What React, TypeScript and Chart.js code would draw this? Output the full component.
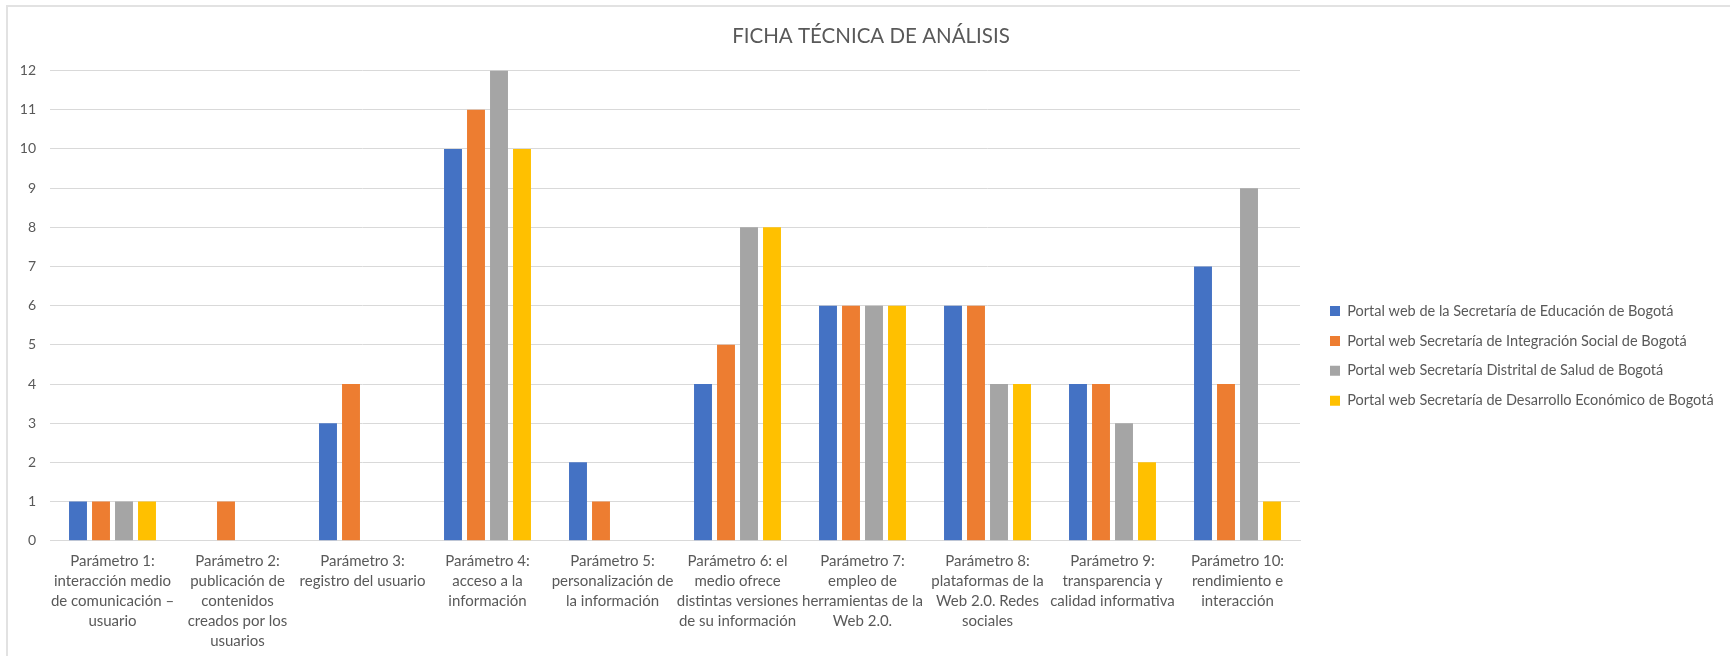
import { useEffect, useRef } from 'react';
import { Chart, registerables } from 'chart.js';

Chart.register(...registerables);

// ---------- data ----------
const categories: string[][] = [
  ['Parámetro 1:', 'interacción medio', 'de comunicación –', 'usuario'],
  ['Parámetro 2:', 'publicación de', 'contenidos', 'creados por los', 'usuarios'],
  ['Parámetro 3:', 'registro del usuario'],
  ['Parámetro 4:', 'acceso a la', 'información'],
  ['Parámetro 5:', 'personalización de', 'la información'],
  ['Parámetro 6: el', 'medio ofrece', 'distintas versiones', 'de su información'],
  ['Parámetro 7:', 'empleo de', 'herramientas de la', 'Web 2.0.'],
  ['Parámetro 8:', 'plataformas de la', 'Web 2.0. Redes', 'sociales'],
  ['Parámetro 9:', 'transparencia y', 'calidad informativa'],
  ['Parámetro 10:', 'rendimiento e', 'interacción'],
];

const educacion = [1, 0, 3, 10, 2, 4, 6, 6, 4, 7];
const integracionSocial = [1, 1, 4, 11, 1, 5, 6, 6, 4, 4];
const salud = [1, 0, 0, 12, 0, 8, 6, 4, 3, 9];
const desarrolloEconomico = [1, 0, 0, 10, 0, 8, 6, 4, 2, 1];

const seriesNames = [
  'Portal web de la Secretaría de Educación de Bogotá',
  'Portal web Secretaría de Integración Social de Bogotá',
  'Portal web Secretaría Distrital de Salud de Bogotá',
  'Portal web Secretaría de Desarrollo Económico de Bogotá',
];
const seriesColors = ['#4472C4', '#ED7D31', '#A5A5A5', '#FFC000'];

const titleText = 'FICHA TÉCNICA DE ANÁLISIS';
const yMin = 0;
const yMax = 12;
const yStep = 1;

// ---------- layout / style ----------
const W = 1730;
const H = 656;
const PLOT_LEFT = 50;
const PLOT_RIGHT = 1300;
const PLOT_TOP = 70.6;
const PLOT_BOTTOM = 540.7;
const FONT = 'Lato';
const TEXT = '#595959';
const GRID = '#d9d9d9';
const TITLE_SIZE = 20.5;
const TITLE_CENTER_Y = 36;
const LEGEND_PAD = 15.4;
const LEGEND_FONT = 14.5;
const LEGEND_BOX_X = 1330;
const LEGEND_ROW1_CENTER = 311;
const TITLE_SHIFT = 12;

const titleLine = TITLE_SIZE * 1.2;
const titlePadTop = TITLE_CENTER_Y - titleLine / 2;
const titlePadBottom = PLOT_TOP - titlePadTop - titleLine;

const placementPlugin = {
  id: 'placement',
  beforeLayout(chart: any) {
    const lg = chart.legend;
    if (lg && !lg.__patched) {
      const orig = lg.fit;
      lg.fit = function () {
        orig.call(this);
        this.width = W - PLOT_RIGHT;
      };
      lg.__patched = true;
    }
  },
  afterLayout(chart: any) {
    const lg = chart.legend;
    if (lg) {
      lg.left = LEGEND_BOX_X - LEGEND_PAD;
      lg.right = W;
      lg.top = LEGEND_ROW1_CENTER - LEGEND_FONT / 2 - LEGEND_PAD;
    }
    const t = chart.titleBlock;
    if (t) {
      t.left += TITLE_SHIFT;
    }
  },
};

export default function App() {
  const ref = useRef<HTMLCanvasElement>(null);

  useEffect(() => {
    document.body.style.margin = '0';
    const series = [educacion, integracionSocial, salud, desarrolloEconomico];
    const chart = new Chart(ref.current as HTMLCanvasElement, {
      type: 'bar',
      data: {
        labels: categories,
        datasets: series.map((d, i) => ({
          label: seriesNames[i],
          data: d,
          backgroundColor: seriesColors[i],
          borderWidth: 0,
          barPercentage: 0.78,
          categoryPercentage: 0.736,
        })),
      },
      options: {
        responsive: false,
        animation: false,
        layout: { padding: 0 },
        plugins: {
          title: {
            display: true,
            text: titleText,
            color: TEXT,
            font: { family: FONT, size: TITLE_SIZE, weight: 'normal', lineHeight: 1.2 },
            padding: { top: titlePadTop, bottom: titlePadBottom },
          },
          legend: {
            position: 'right',
            align: 'start',
            labels: {
              boxWidth: 10,
              boxHeight: 10,
              padding: LEGEND_PAD,
              color: TEXT,
              font: { family: FONT, size: LEGEND_FONT },
            },
          },
          tooltip: { enabled: false },
        },
        scales: {
          x: {
            grid: { display: false, drawTicks: false },
            border: { display: true, color: GRID },
            ticks: {
              color: TEXT,
              font: { family: FONT, size: 15, lineHeight: 20 / 15 },
              padding: 10,
              maxRotation: 0,
              minRotation: 0,
              autoSkip: false,
            },
            afterFit: (s: any) => {
              s.height = H - PLOT_BOTTOM;
            },
          },
          y: {
            min: yMin,
            max: yMax,
            ticks: {
              stepSize: yStep,
              color: TEXT,
              font: { family: FONT, size: 14 },
              padding: 14,
            },
            grid: { color: GRID, drawTicks: false },
            border: { display: false },
            afterFit: (s: any) => {
              s.width = PLOT_LEFT;
            },
          },
        },
      },
      plugins: [placementPlugin],
    });
    return () => chart.destroy();
  }, []);

  return (
    <div style={{ position: 'relative', width: W, height: H, overflow: 'hidden', background: '#fff' }}>
      <div
        style={{
          position: 'absolute',
          left: 6,
          top: 5,
          width: 1800,
          height: 800,
          border: '2px solid #e2e2e2',
          boxSizing: 'border-box',
        }}
      />
      <canvas
        ref={ref}
        width={W}
        height={H}
        style={{ position: 'absolute', left: 0, top: 0, width: W, height: H }}
      />
    </div>
  );
}
